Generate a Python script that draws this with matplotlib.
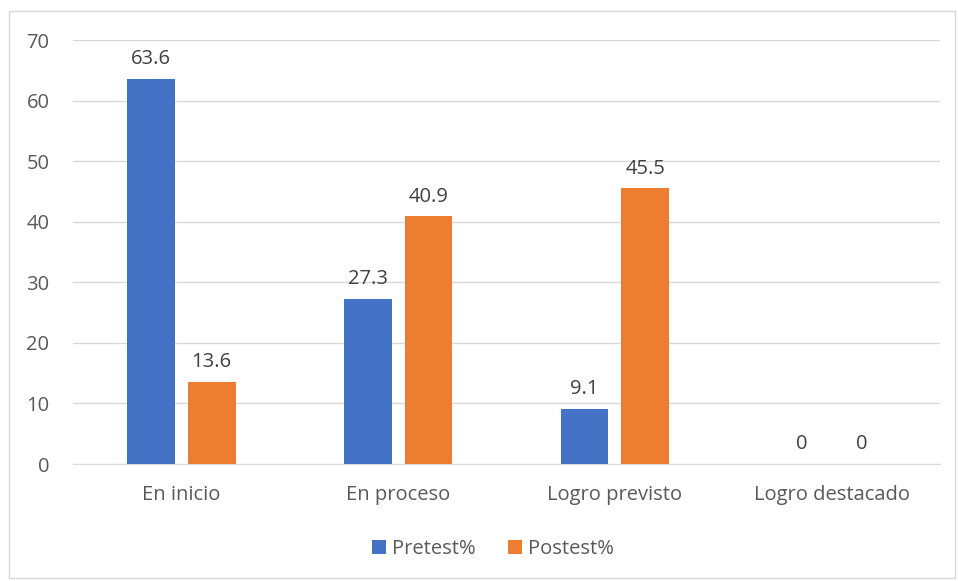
import matplotlib
matplotlib.use("Agg")
import matplotlib.pyplot as plt
import numpy as np
from matplotlib.patches import Rectangle

categories = ["En inicio", "En proceso", "Logro previsto", "Logro destacado"]
pretest = [63.6, 27.3, 9.1, 0]
postest = [13.6, 40.9, 45.5, 0]
series_names = ["Pretest%", "Postest%"]
colors = ["#4472C4", "#ED7D31"]
yticks = [0, 10, 20, 30, 40, 50, 60, 70]

plt.rcParams['font.family'] = ['Open Sans', 'DejaVu Sans']
txt = "#595959"
fs = 14.5

W, H = 958, 581
fig = plt.figure(figsize=(W/100, H/100), dpi=100)
fig.patches.append(Rectangle((9/W, 1-578/H), (955-9)/W, (578-11)/H, transform=fig.transFigure,
                             fill=False, edgecolor="#D9D9D9", linewidth=1))
ax = fig.add_axes([73/W, 1-464/H, (940-73)/W, (464-40)/H])

x = np.arange(len(categories))
bw = 0.22
off = 0.14
b1 = ax.bar(x - off, pretest, bw, color=colors[0], label=series_names[0], zorder=3)
b2 = ax.bar(x + off, postest, bw, color=colors[1], label=series_names[1], zorder=3)
for bars, vals in ((b1, pretest), (b2, postest)):
    for r, v in zip(bars, vals):
        ax.annotate(f"{v:g}", (r.get_x() + r.get_width()/2, v), xytext=(0, 7),
                    textcoords="offset points", ha="center", va="bottom",
                    fontsize=fs, color="#404040")

ax.set_xlim(-0.5, 3.5)
ax.set_ylim(0, 70)
ax.set_yticks(yticks)
ax.set_xticks(x)
ax.set_xticklabels(categories)
ax.tick_params(axis="both", length=0, labelsize=fs, labelcolor=txt)
ax.tick_params(axis="y", pad=17)
ax.tick_params(axis="x", pad=15)
ax.grid(axis="y", color="#D9D9D9", linewidth=1, zorder=0)
for s in ["top", "right", "left"]:
    ax.spines[s].set_visible(False)
ax.spines["bottom"].set_color("#D9D9D9")

leg = fig.legend(handles=[b1, b2], labels=series_names, loc="center",
                 bbox_to_anchor=(493/W, 1-549/H), ncol=2, frameon=False,
                 fontsize=fs, handlelength=0.7, handleheight=0.7,
                 handletextpad=0.3, columnspacing=1.6)
for t in leg.get_texts():
    t.set_color(txt)

fig.savefig("out.png", dpi=100)
